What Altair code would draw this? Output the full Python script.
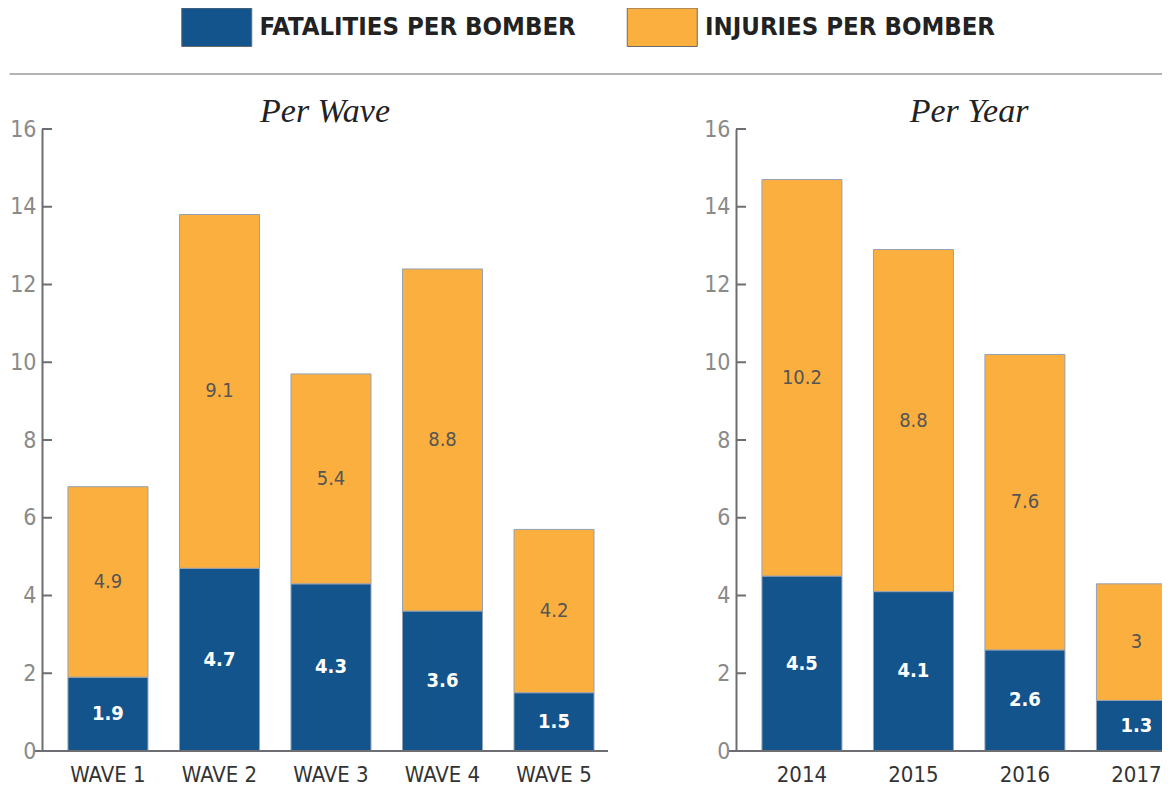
import altair as alt
import pandas as pd

waves = ["WAVE 1", "WAVE 2", "WAVE 3", "WAVE 4", "WAVE 5"]
wave_fatalities = [1.9, 4.7, 4.3, 3.6, 1.5]
wave_injuries = [4.9, 9.1, 5.4, 8.8, 4.2]

years = ["2014", "2015", "2016", "2017"]
year_fatalities = [4.5, 4.1, 2.6, 1.3]
year_injuries = [10.2, 8.8, 7.6, 3.0]

series = ["FATALITIES PER BOMBER", "INJURIES PER BOMBER"]
colors = ["#14548C", "#FBAF3F"]
y_ticks = [0, 2, 4, 6, 8, 10, 12, 14, 16]

FONT = "Liberation Sans Narrow, DejaVu Sans Condensed, Roboto, sans-serif"
SERIF = "Liberation Serif, DejaVu Serif, serif"
AXIS_COL = "#6d6e71"
H = 622
XLAB_SIZE = 22
XLAB_PAD = 14


def long_table(cats, fat, inj):
    rows = []
    for c, f, i in zip(cats, fat, inj):
        rows.append({"cat": c, "series": series[0], "value": f, "order": 0})
        rows.append({"cat": c, "series": series[1], "value": i, "order": 1})
    return pd.DataFrame(rows)


yscale = alt.Scale(domain=[0, 16], nice=False)


def panel(df, cats, title, width, xrange=None, title_dx=0):
    base = alt.Chart(df).transform_stack(
        stack="value", groupby=["cat"], as_=["y0", "y1"],
        sort=[alt.SortField("order", order="ascending")]
    ).transform_calculate(mid="(datum.y0 + datum.y1) / 2")

    sc = dict(paddingInner=0.2825, paddingOuter=0.179, align=0.65)
    if xrange is not None:
        sc["range"] = [0, xrange]
    xs = alt.Scale(**sc)
    x = alt.X("cat:N", sort=cats, title=None, scale=xs, axis=None)
    bars = base.mark_bar(stroke="#94a2b6", strokeWidth=1, clip=True).encode(
        x=x,
        y=alt.Y("y0:Q", scale=yscale, title=None,
                axis=alt.Axis(values=y_ticks, ticks=False, grid=False,
                              domainColor=AXIS_COL, domainWidth=2,
                              labelFont=FONT, labelFontSize=23,
                              labelColor="#8a8a8a", labelPadding=6)),
        y2="y1:Q",
        color=alt.Color("series:N", scale=alt.Scale(domain=series, range=colors),
                        legend=alt.Legend(
                            title=None, orient="none", direction="horizontal",
                            legendX=162, legendY=6.5, padding=0,
                            symbolType="M-4,-2.2L4,-2.2L4,2.2L-4,2.2Z",
                            symbolSize=306.25, symbolStrokeColor="#6a6a6a",
                            symbolStrokeWidth=1, symbolOpacity=1,
                            labelFont=FONT, labelFontSize=25.5, labelFontWeight="bold",
                            labelColor="#222222", labelOffset=30, labelLimit=500,
                            columnPadding=48.5)),
    )
    txt_fat = base.transform_filter("datum.order == 0").mark_text(
        font=FONT, fontSize=20, fontWeight="bold", color="white", baseline="middle",
        clip=True
    ).encode(x=alt.X("cat:N", sort=cats), y=alt.Y("mid:Q", scale=yscale), text="value:Q")
    txt_inj = base.transform_filter("datum.order == 1").mark_text(
        font=FONT, fontSize=20, color="#555555", baseline="middle", clip=True
    ).encode(x=alt.X("cat:N", sort=cats), y=alt.Y("mid:Q", scale=yscale), text="value:Q")

    # category labels under the baseline
    cat_labels = alt.Chart(pd.DataFrame({"cat": cats})).mark_text(
        font=FONT, fontSize=XLAB_SIZE, color="#333333", baseline="top"
    ).encode(x=alt.X("cat:N", sort=cats, scale=xs), y=alt.value(H + XLAB_PAD),
             text="cat:N")

    ticks = alt.Chart(pd.DataFrame({"t": y_ticks})).mark_rule(
        color=AXIS_COL, strokeWidth=2
    ).encode(y=alt.Y("t:Q", scale=yscale), x=alt.value(0), x2=alt.value(10))

    baseline = alt.Chart(pd.DataFrame({"b": [0]})).mark_rule(
        color=AXIS_COL, strokeWidth=2
    ).encode(y=alt.Y("b:Q", scale=yscale), x=alt.value(-7), x2=alt.value(width))

    return alt.layer(bars, txt_fat, txt_inj, cat_labels, ticks, baseline).properties(
        width=width, height=H,
        title=alt.TitleParams(title, font=SERIF, fontStyle="italic", fontSize=34,
                              fontWeight="normal", color="#222222", anchor="middle",
                              frame="group", offset=-11, dx=title_dx),
    )


left = panel(long_table(waves, wave_fatalities, wave_injuries), waves, "Per Wave", 566)
right = panel(long_table(years, year_fatalities, year_injuries), years, "Per Year", 426,
              xrange=454.4, title_dx=20)

header = alt.Chart(pd.DataFrame({"a": [0]})).mark_rule(
    color="#b4b4b4", strokeWidth=2
).encode(x=alt.value(-32.5), x2=alt.value(1120), y=alt.value(66)).properties(width=1100, height=66)

chart = alt.vconcat(
    header, alt.hconcat(left, right, spacing=94), spacing=20
).properties(padding=0).configure_view(stroke=None)

chart.save("out.html", embed_options={"renderer": "svg", "actions": False})
